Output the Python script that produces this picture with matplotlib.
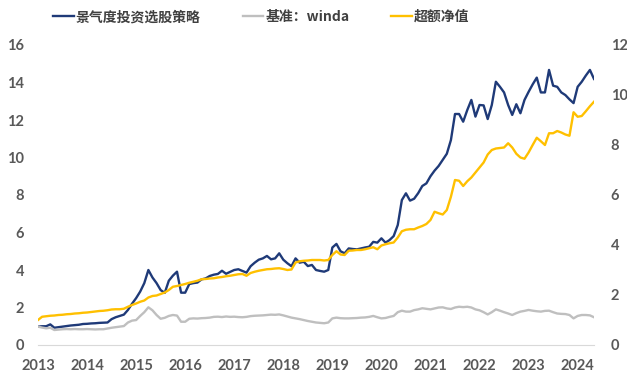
import numpy as np
import matplotlib
matplotlib.use("Agg")
import matplotlib.pyplot as plt

# monthly values, Jan 2013 .. May 2024
start_year = 2013
strategy = [
    0.98, 1.0, 1.0, 1.1, 0.92, 0.95, 0.98, 1.01, 1.04, 1.06, 1.08, 1.12,
    1.13, 1.15, 1.16, 1.18, 1.19, 1.2, 1.38, 1.48, 1.55, 1.62, 1.87, 2.2,
    2.5, 2.85, 3.3, 4.0, 3.6, 3.3, 2.93, 2.78, 3.43, 3.7, 3.91, 2.79,
    2.79, 3.25, 3.3, 3.33, 3.5, 3.55, 3.68, 3.75, 3.79, 3.96, 3.8, 3.9,
    4.0, 4.04, 3.95, 3.86, 4.2, 4.39, 4.55, 4.62, 4.75, 4.57, 4.62, 4.89,
    4.55, 4.36, 4.2, 4.62, 4.39, 4.44, 4.21, 4.27, 4.0, 3.95, 3.91, 4.0,
    5.2, 5.39, 5.0, 4.89, 5.15, 5.12, 5.1, 5.15, 5.2, 5.24, 5.5, 5.46,
    5.69, 5.46, 5.6, 5.81, 6.4, 7.73, 8.09, 7.7, 7.8, 8.1, 8.48, 8.62,
    9.0, 9.3, 9.55, 9.87, 10.2, 10.93, 12.32, 12.32, 11.91, 12.53, 13.07, 12.18,
    12.8, 12.78, 12.05, 12.8, 14.04, 13.77, 13.47, 12.8, 12.27, 12.84, 12.36, 13.07,
    13.5, 13.9, 14.26, 13.47, 13.47, 14.67, 13.83, 13.77, 13.47, 13.33, 13.1, 12.9,
    13.77, 14.04, 14.37, 14.67, 14.19,
]
benchmark = [
    0.98, 0.93, 0.89, 0.92, 0.8, 0.82, 0.84, 0.85, 0.84, 0.85, 0.84, 0.84,
    0.85, 0.84, 0.83, 0.84, 0.84, 0.88, 0.92, 0.95, 0.98, 1.01, 1.2, 1.3,
    1.33, 1.55, 1.75, 2.01, 1.85, 1.6, 1.4, 1.45, 1.55, 1.6, 1.57, 1.24,
    1.24, 1.4, 1.42, 1.41, 1.43, 1.44, 1.46, 1.5, 1.51, 1.49, 1.52, 1.5,
    1.51, 1.49, 1.48, 1.5, 1.54, 1.56, 1.57, 1.58, 1.6, 1.62, 1.61, 1.63,
    1.58, 1.52, 1.46, 1.42, 1.38, 1.33, 1.28, 1.24, 1.2, 1.18, 1.16, 1.2,
    1.42, 1.46, 1.43, 1.42, 1.42, 1.43, 1.44, 1.46, 1.47, 1.5, 1.55, 1.48,
    1.42, 1.44, 1.5, 1.55, 1.75, 1.83, 1.78, 1.78, 1.86, 1.9, 1.96, 1.93,
    1.9, 1.95, 2.0, 2.01, 1.95, 1.92, 2.0, 2.04, 2.02, 2.04, 2.0, 1.9,
    1.85, 1.75, 1.63, 1.75, 1.9, 1.83, 1.75, 1.68, 1.6, 1.7, 1.78, 1.82,
    1.87, 1.83, 1.8, 1.78, 1.82, 1.83, 1.75, 1.68, 1.66, 1.65, 1.6, 1.42,
    1.55, 1.6, 1.6, 1.58, 1.48,
]
excess = [
    1.0, 1.13, 1.15, 1.17, 1.18, 1.2, 1.21, 1.23, 1.24, 1.26, 1.27, 1.29,
    1.3, 1.32, 1.34, 1.36, 1.37, 1.39, 1.42, 1.43, 1.43, 1.45, 1.53, 1.6,
    1.66, 1.73, 1.78, 1.9, 1.96, 1.98, 2.04, 2.1, 2.2, 2.33, 2.36, 2.4,
    2.44, 2.49, 2.53, 2.57, 2.63, 2.64, 2.66, 2.67, 2.7, 2.72, 2.75, 2.77,
    2.8, 2.83, 2.84, 2.77, 2.88, 2.93, 2.97, 3.0, 3.03, 3.04, 3.06, 3.07,
    3.04, 3.0, 3.02, 3.3, 3.35, 3.37, 3.38, 3.4, 3.4, 3.4, 3.38, 3.4,
    3.6, 3.75, 3.62, 3.6, 3.77, 3.78, 3.8, 3.8, 3.83, 3.87, 3.91, 3.83,
    3.98, 4.03, 4.07, 4.1, 4.3, 4.55, 4.61, 4.63, 4.63, 4.7, 4.76, 4.84,
    5.0, 5.33, 5.27, 5.22, 5.4, 5.93, 6.6, 6.57, 6.36, 6.55, 6.7, 6.9,
    7.1, 7.3, 7.62, 7.8, 7.86, 7.88, 7.9, 8.07, 7.9, 7.65, 7.5, 7.45,
    7.7, 8.0, 8.29, 8.15, 8.0, 8.47, 8.47, 8.56, 8.5, 8.42, 8.37, 9.31,
    9.13, 9.16, 9.35, 9.55, 9.73,
]
years = list(range(2013, 2025))

t = start_year + np.arange(len(strategy)) / 12

plt.rcParams['font.family'] = ['Lato', 'Noto Sans CJK SC', 'DejaVu Sans']

fig = plt.figure(figsize=(6.27, 3.81), dpi=100)
ax = fig.add_axes([38 / 627, 36 / 381, 556 / 627, 300 / 381])
ax2 = ax.twinx()

l1, = ax.plot(t, strategy, color='#1f3a78', lw=1.7, label='景气度投资选股策略')
l2, = ax.plot(t, benchmark, color='#bfbfbf', lw=1.7, label='基准：winda')
l3, = ax2.plot(t, excess, color='#ffc000', lw=1.7, label='超额净值')

ax.set_xlim(t[0], t[-1])
ax.set_ylim(0, 16)
ax2.set_ylim(0, 12)
ax.set_yticks(range(0, 17, 2))
ax2.set_yticks(range(0, 13, 2))
ax.set_xticks(years)

for a in (ax, ax2):
    for s in a.spines.values():
        s.set_visible(False)
    a.tick_params(length=0, labelsize=10.5, labelcolor='#595959')
    for lab in a.get_yticklabels() + a.get_xticklabels():
        lab.set_fontweight('bold')
ax.spines['bottom'].set_visible(True)
ax.spines['bottom'].set_color('#d9d9d9')
ax.tick_params(axis='y', pad=10)
ax.tick_params(axis='x', pad=10)
ax2.tick_params(axis='y', pad=12)

fig.legend(handles=[l1, l2, l3], loc='center', bbox_to_anchor=(0.417, 0.955),
           ncol=3, frameon=False, handlelength=1.5, handletextpad=0.15,
           columnspacing=3.0, prop={'family': ['Noto Sans CJK SC', 'DejaVu Sans'],
                                    'size': 10, 'weight': 'bold'},
           labelcolor='#404040')

fig.savefig('out.png', dpi=100)
